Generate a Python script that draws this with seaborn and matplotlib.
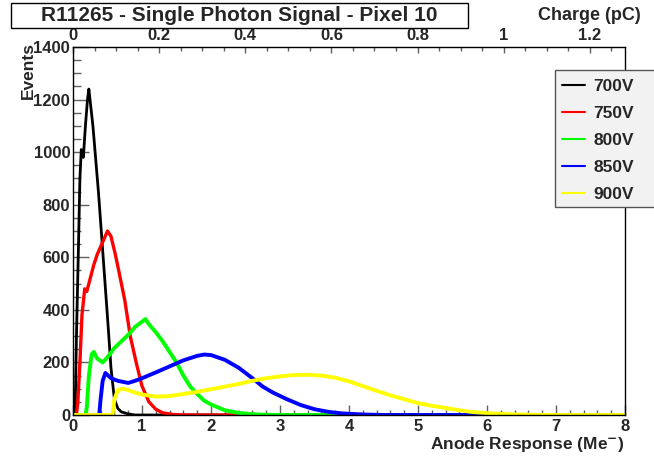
import numpy as np
import pandas as pd
import matplotlib
matplotlib.use("Agg")
import matplotlib.pyplot as plt
from matplotlib.patches import Rectangle
from matplotlib.ticker import MultipleLocator
import seaborn as sns

# ---------------- data ----------------
x_700 = [0.0, 0.03, 0.05, 0.08, 0.10, 0.12, 0.15, 0.18, 0.21, 0.23, 0.29, 0.37, 0.44,
         0.51, 0.55, 0.60, 0.65, 0.70, 0.80, 0.90, 8.0]
y_700 = [0, 0, 300, 650, 900, 1010, 980, 1100, 1200, 1240, 1096, 844, 590,
         335, 180, 60, 25, 12, 4, 0, 0]

x_750 = [0.0, 0.05, 0.07, 0.10, 0.13, 0.17, 0.20, 0.25, 0.30, 0.35, 0.40, 0.45, 0.50,
         0.55, 0.61, 0.67, 0.75, 0.83, 0.92, 1.00, 1.10, 1.20, 1.30, 1.45, 1.60, 8.0]
y_750 = [0, 0, 50, 200, 380, 480, 470, 520, 570, 610, 640, 670, 700,
         680, 615, 540, 437, 300, 195, 110, 50, 22, 8, 2, 0, 0]

x_800 = [0.0, 0.18, 0.20, 0.23, 0.27, 0.30, 0.35, 0.43, 0.50, 0.60, 0.70, 0.80, 0.90,
         1.00, 1.05, 1.10, 1.20, 1.30, 1.40, 1.50, 1.60, 1.70, 1.80, 1.90, 2.00,
         2.20, 2.40, 2.60, 2.80, 3.00, 8.0]
y_800 = [0, 0, 30, 150, 230, 240, 215, 200, 220, 255, 280, 305, 335,
         355, 365, 345, 315, 280, 240, 200, 150, 108, 80, 55, 40,
         18, 8, 3, 1, 0, 0]

x_850 = [0.0, 0.38, 0.40, 0.43, 0.47, 0.55, 0.65, 0.80, 0.90, 1.00, 1.20, 1.40, 1.60,
         1.80, 1.90, 2.00, 2.20, 2.40, 2.60, 2.75, 2.90, 3.10, 3.30, 3.50, 3.70,
         3.90, 4.20, 4.50, 8.0]
y_850 = [0, 0, 60, 130, 160, 140, 130, 122, 130, 140, 162, 185, 208,
         225, 230, 228, 210, 180, 140, 108, 85, 60, 38, 22, 12,
         6, 2, 0, 0]

x_900 = [0.0, 0.57, 0.60, 0.65, 0.72, 0.80, 0.90, 1.00, 1.20, 1.40, 1.60, 1.80, 2.00,
         2.20, 2.40, 2.60, 2.80, 3.00, 3.20, 3.40, 3.60, 3.80, 4.00, 4.20, 4.40,
         4.60, 4.80, 5.00, 5.20, 5.40, 5.60, 5.80, 6.00, 6.30, 6.60, 7.00, 8.0]
y_900 = [0, 0, 60, 95, 100, 95, 85, 78, 70, 72, 80, 88, 98,
         108, 118, 130, 140, 147, 152, 153, 150, 142, 128, 110, 92,
         75, 60, 45, 35, 27, 18, 11, 7, 3, 1, 0, 0]

series_labels = ["700V", "750V", "800V", "850V", "900V"]
series_colors = ["#000000", "#ff0000", "#00ff00", "#0000ff", "#ffff00"]
x_ticks_bottom = [0, 1, 2, 3, 4, 5, 6, 7, 8]
y_ticks = [0, 200, 400, 600, 800, 1000, 1200, 1400]
charge_ticks = [0, 0.2, 0.4, 0.6, 0.8, 1.0, 1.2]
charge_tick_labels = ["0", "0.2", "0.4", "0.6", "0.8", "1", "1.2"]
ME_PER_PC = 6.2415

frames = []
for lab, xs, ys in zip(series_labels,
                       [x_700, x_750, x_800, x_850, x_900],
                       [y_700, y_750, y_800, y_850, y_900]):
    frames.append(pd.DataFrame({"anode": xs, "events": ys, "hv": lab}))
df = pd.concat(frames, ignore_index=True)

# ---------------- style ----------------
sns.set_style("white")
plt.rcParams['font.family'] = ['Liberation Sans', 'DejaVu Sans']
plt.rcParams['font.weight'] = 'bold'
plt.rcParams['mathtext.default'] = 'bf'

fig = plt.figure(figsize=(6.54, 4.57), dpi=100)
ax = fig.add_axes([73/654, 1 - 415/457, (625-73)/654, (415-47)/457])

widths = {"700V": 2.0, "750V": 2.4, "800V": 2.8, "850V": 2.8, "900V": 2.8}
for lab, col in zip(series_labels, series_colors):
    sub = df[df["hv"] == lab]
    sns.lineplot(data=sub, x="anode", y="events", color=col, lw=widths[lab],
                 estimator=None, sort=False, ax=ax, label=lab)

ax.set_xlim(0, 8)
ax.set_ylim(0, 1400)
ax.set_xticks(x_ticks_bottom)
ax.set_yticks(y_ticks)
ax.xaxis.set_minor_locator(MultipleLocator(0.2))
ax.yaxis.set_minor_locator(MultipleLocator(50))
tick_col = "#606060"
ax.tick_params(axis='x', which='major', direction='in', length=7.2, width=1,
               color=tick_col, labelsize=12, pad=3, top=False, bottom=True)
ax.tick_params(axis='x', which='minor', direction='in', length=3.6, width=1,
               color=tick_col, top=False, bottom=True)
ax.tick_params(axis='y', which='major', direction='in', length=11.5, width=1,
               color=tick_col, labelsize=12, pad=2, left=True, right=False)
ax.tick_params(axis='y', which='minor', direction='in', length=5.8, width=1,
               color=tick_col, left=True, right=False)
for lbl in ax.get_xticklabels() + ax.get_yticklabels():
    lbl.set_fontweight('bold')
for sp in ax.spines.values():
    sp.set_visible(True)
    sp.set_color("#000000")
    sp.set_linewidth(1.0)

ax.set_xlabel("")
ax.set_ylabel("")

# top charge axis
sec = ax.secondary_xaxis('top', functions=(lambda v: v / ME_PER_PC,
                                          lambda q: q * ME_PER_PC))
sec.set_xticks(charge_ticks)
sec.set_xticklabels(charge_tick_labels)
sec.xaxis.set_minor_locator(MultipleLocator(0.05))
sec.tick_params(axis='x', which='major', direction='in', length=4.3, width=1,
                color=tick_col, labelsize=12, pad=3)
sec.tick_params(axis='x', which='minor', direction='in', length=2.9, width=1,
                color=tick_col)
for lbl in sec.get_xticklabels():
    lbl.set_fontweight('bold')
sec.spines['top'].set_visible(False)

# axis titles
fig.text(625/654, 1 - 444/457, "Anode Response (Me$^{-}$)", ha='right', va='center',
         fontsize=12.5, fontweight='bold')
fig.text(641/654, 1 - 16/457, "Charge (pC)", ha='right', va='center',
         fontsize=13, fontweight='bold')
fig.text(28/654, 1 - 42/457, "Events", ha='center', va='top', rotation=90,
         fontsize=12.5, fontweight='bold')

# title box
fig.patches.append(Rectangle((11/654, 1 - 28/457), 457/654, 25/457,
                             transform=fig.transFigure, facecolor='white',
                             edgecolor='black', lw=1.0, zorder=0))
fig.text(239/654, 1 - 15.5/457, "R11265 - Single Photon Signal - Pixel 10",
         ha='center', va='center', fontsize=15, fontweight='bold')

# legend background box (extends to the figure edge as in the reference)
fig.patches.append(Rectangle((555/654, 1 - 207/457), 105/654, 137/457,
                             transform=fig.transFigure, facecolor='#f2f2f2',
                             edgecolor='#555555', lw=1.0, zorder=5))
handles, labels = ax.get_legend_handles_labels()
ax.get_legend().remove()
leg = fig.legend(handles, labels, loc='upper left',
                 bbox_to_anchor=(557/654, 1 - 74/457),
                 frameon=False,
                 prop={'weight': 'bold', 'size': 12.5},
                 handlelength=1.3, handletextpad=0.5, labelspacing=0.68,
                 borderpad=0.3, borderaxespad=0)
leg.set_zorder(6)
for h in leg.get_lines():
    h.set_linewidth(1.5)

fig.savefig("out.png", dpi=100)
